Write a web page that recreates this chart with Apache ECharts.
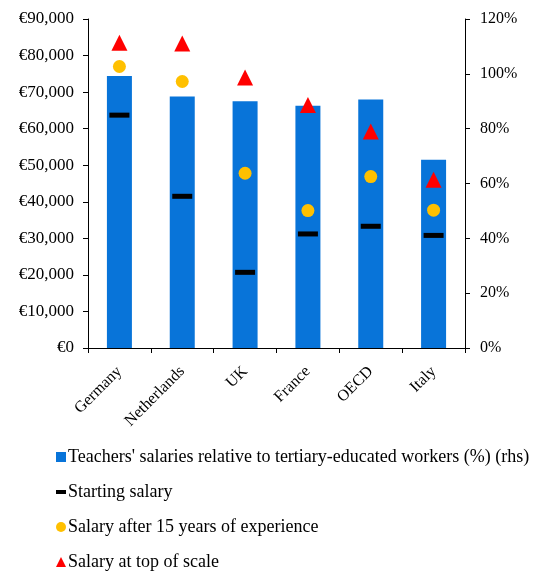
<!DOCTYPE html>
<html>
<head>
<meta charset="utf-8">
<script src="https://cdn.jsdelivr.net/npm/echarts@6/dist/echarts.min.js"></script>
<style>
  html, body { margin: 0; padding: 0; background: #fff; }
  #chart { width: 550px; height: 573px; }
</style>
</head>
<body>
<div id="chart"></div>
<script>
// categories and values
const countries = ['Germany', 'Netherlands', 'UK', 'France', 'OECD', 'Italy']
const relativeSalary = [99.2, 91.7, 90.0, 88.4, 90.6, 68.7]      // % (rhs)
const startingSalary = [63700, 41500, 20700, 31200, 33300, 30800]
const salary15Years = [77000, 72900, 47800, 37600, 46900, 37700]
const salaryTop = [83500, 83300, 74000, 66500, 59200, 46000]

const names = {
  bar: "Teachers' salaries relative to tertiary-educated workers (%) (rhs)",
  start: 'Starting salary',
  mid: 'Salary after 15 years of experience',
  top: 'Salary at top of scale',
}

const font = '"Liberation Serif", "Times New Roman", serif'
const axisColor = '#000'

const chart = echarts.init(document.getElementById('chart'))

const option = {
  animation: false,
  textStyle: { fontFamily: font },
  grid: { left: 88, right: 85, top: 19, bottom: 225 },
  legend: {
    orient: 'vertical',
    left: 56,
    top: 448,
    height: 125,
    padding: 0,
    itemWidth: 10,
    itemHeight: 10,
    itemGap: 17,
    textStyle: { fontFamily: font, fontSize: 18, color: '#000', padding: [0, 0, 0, -3] },
    data: [
      { name: names.bar, icon: 'rect' },
      { name: names.start, icon: 'path://M0,0 L10,0 L10,4 L0,4 Z' },
      { name: names.mid, icon: 'circle' },
      { name: names.top, icon: 'triangle' },
    ],
  },
  xAxis: {
    type: 'category',
    data: countries,
    axisLine: { lineStyle: { color: axisColor, width: 1 } },
    axisTick: { show: true, length: 5, lineStyle: { color: axisColor } },
    axisLabel: {
      rotate: 45,
      margin: 21,
      color: '#000',
      fontFamily: font,
      fontSize: 16,
    },
  },
  yAxis: [
    {
      type: 'value',
      min: 0,
      max: 90000,
      interval: 10000,
      splitLine: { show: false },
      axisLine: { show: true, lineStyle: { color: axisColor } },
      axisTick: { show: true, length: 5, lineStyle: { color: axisColor } },
      axisLabel: {
        margin: 14,
        color: '#000',
        fontFamily: font,
        fontSize: 17,
        formatter: v => '€' + v.toLocaleString('en-US'),
      },
    },
    {
      type: 'value',
      min: 0,
      max: 120,
      interval: 20,
      splitLine: { show: false },
      axisLine: { show: true, lineStyle: { color: axisColor } },
      axisTick: { show: true, length: 5, lineStyle: { color: axisColor } },
      axisLabel: {
        margin: 15,
        color: '#000',
        fontFamily: font,
        fontSize: 16,
        formatter: '{value}%',
      },
    },
  ],
  series: [
    {
      name: names.bar,
      type: 'bar',
      yAxisIndex: 1,
      data: relativeSalary,
      barWidth: 25,
      itemStyle: { color: '#0874D9' },
    },
    {
      name: names.start,
      type: 'scatter',
      yAxisIndex: 0,
      data: startingSalary,
      symbol: 'rect',
      symbolSize: [20, 5],
      itemStyle: { color: '#000', opacity: 1 },
    },
    {
      name: names.mid,
      type: 'scatter',
      yAxisIndex: 0,
      data: salary15Years,
      symbol: 'circle',
      symbolSize: 13,
      itemStyle: { color: '#FFC000', opacity: 1 },
    },
    {
      name: names.top,
      type: 'scatter',
      yAxisIndex: 0,
      data: salaryTop,
      symbol: 'triangle',
      symbolSize: 16,
      itemStyle: { color: '#FF0000', opacity: 1 },
    },
  ],
}

chart.setOption(option)
</script>
</body>
</html>
